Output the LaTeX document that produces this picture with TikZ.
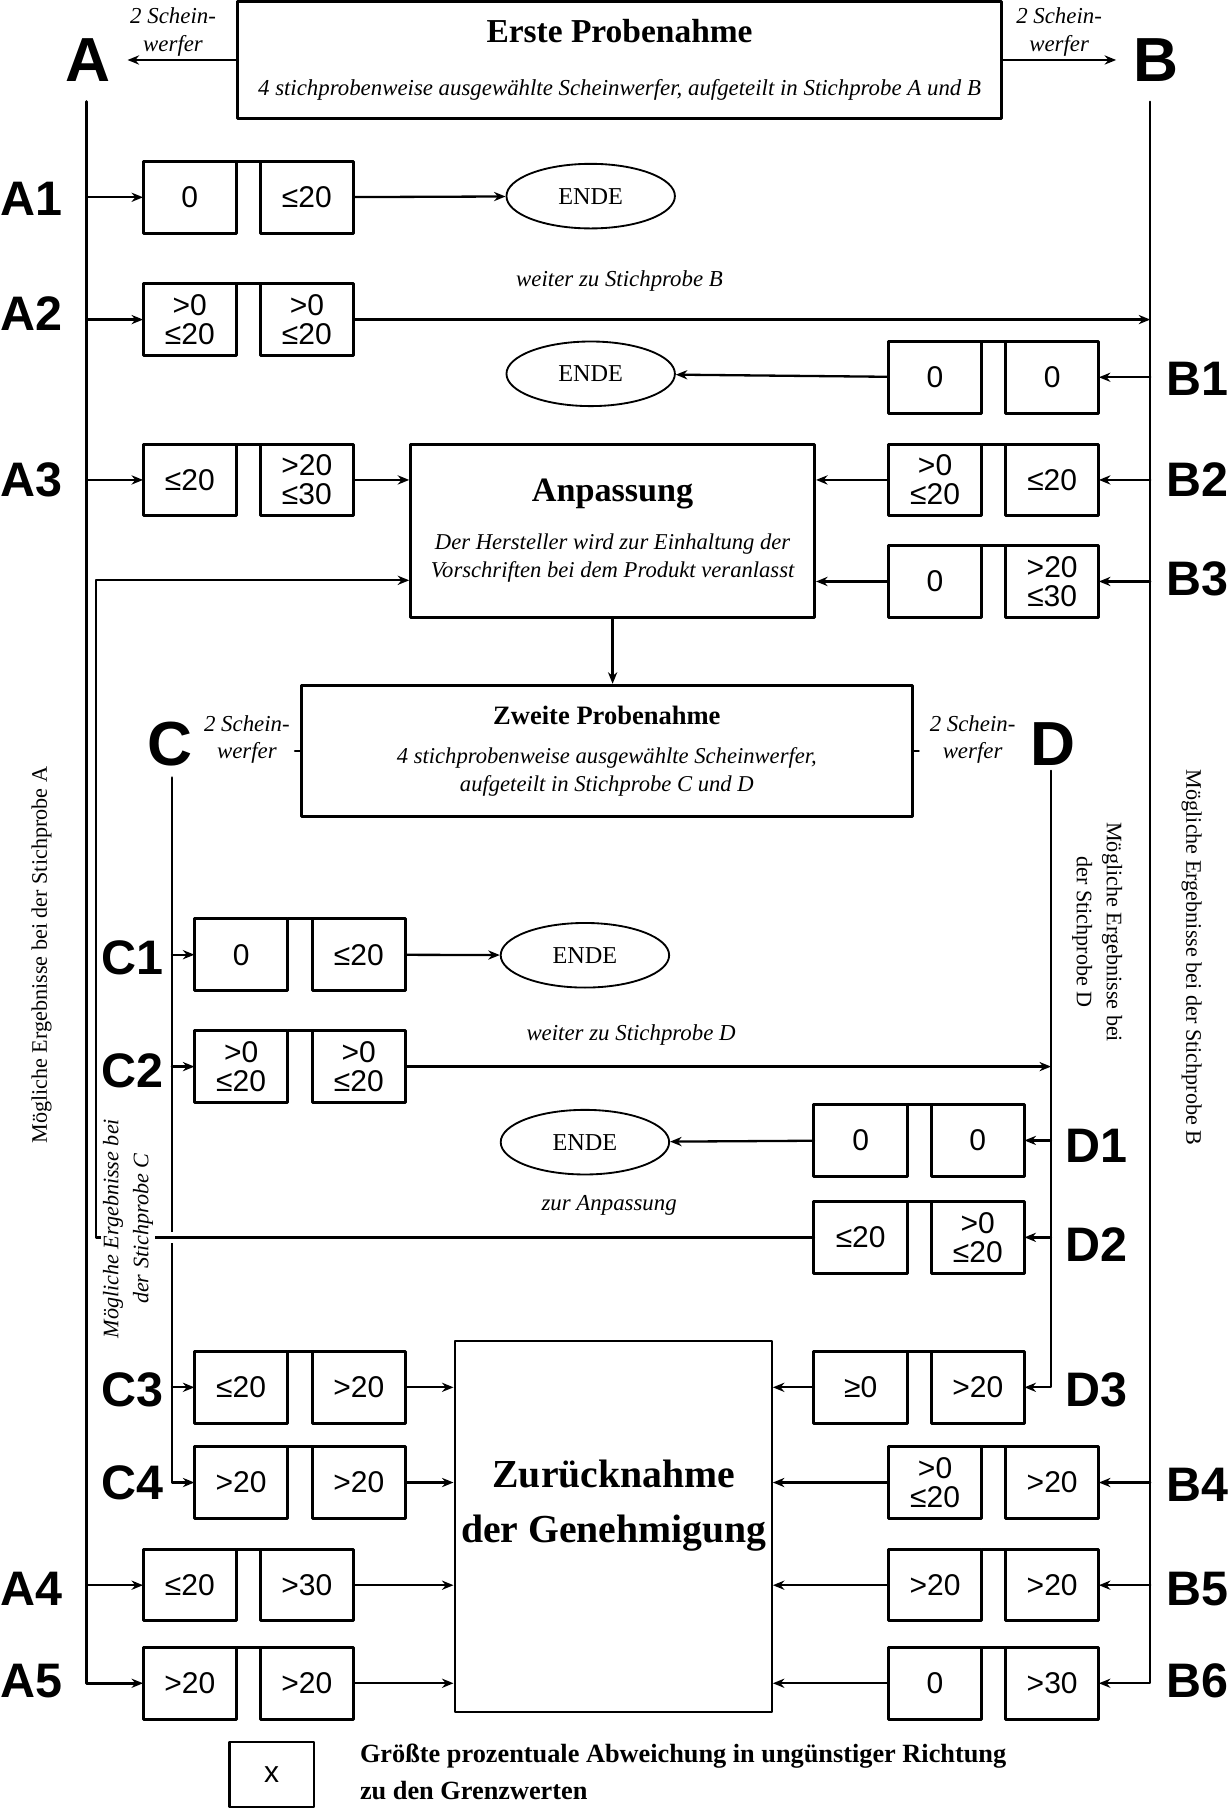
\documentclass[tikz,border=0pt]{standalone}
\usepackage{fontspec}
\setmainfont{Liberation Serif}
\newfontfamily\arialfont{Liberation Sans}
\usetikzlibrary{arrows.meta,shapes.geometric}

\begin{document}
\begin{tikzpicture}[x=0.5pt, y=-0.5pt, >={Stealth[length=5pt,width=4pt]}, line join=round, line cap=round,
    res/.style={draw, line width=1.3pt, minimum width=40.5pt, minimum height=31pt, inner sep=0pt, outer sep=0pt, align=center, font=\arialfont\fontsize{13}{12.5}\selectfont},
    lbl/.style={font=\arialfont\bfseries\fontsize{21}{21}\selectfont, inner sep=1pt},
    big/.style={font=\arialfont\bfseries\fontsize{27}{27}\selectfont},
    frame/.style={draw, line width=1.3pt, align=center, inner sep=0pt},
    ende/.style={draw, ellipse, line width=0.8pt, minimum width=73pt, minimum height=28pt, inner sep=0pt, font=\fontsize{10.5}{13}\selectfont},
    note/.style={font=\itshape\fontsize{9.9}{12}\selectfont, align=center, inner sep=0pt},
    side/.style={font=\fontsize{9.6}{13}\selectfont, align=center, inner sep=1pt},
    conn/.style={line width=1pt}]
    \useasboundingbox (0,0) rectangle (1067,1568);

    \node[frame, minimum width=331pt, minimum height=51pt] (erste) at (537,52)
      {{\fontsize{14.5}{18}\selectfont\bfseries Erste Probenahme}\\[11pt]
       {\itshape\fontsize{9.9}{12}\selectfont 4 stichprobenweise ausgewählte Scheinwerfer, aufgeteilt in Stichprobe A und B}};
    \node[big] (lA) at (76,52) {A};
    \node[big] (lB) at (1002,52) {B};
    \node[note] (sA) at (150,28) {2 Schein-\\werfer};
    \node[note] (sB) at (918,28) {2 Schein-\\werfer};
    \draw[conn,->,shorten >=4pt] (erste.west) -- (lA.east);
    \draw[conn,->,shorten >=4pt] (erste.east) -- (lB.west);

    \node[lbl] (nA1) at (27,172) {A1};
    \node[lbl] (nA2) at (27,272) {A2};
    \node[lbl] (nA3) at (27,416) {A3};
    \node[lbl] (nA4) at (27,1377) {A4};
    \node[lbl] (nA5) at (27,1457) {A5};
    \node[lbl] (nB1) at (1038,328) {B1};
    \node[lbl] (nB2) at (1038,416) {B2};
    \node[lbl] (nB3) at (1038,502) {B3};
    \node[lbl] (nB4) at (1038,1287) {B4};
    \node[lbl] (nB5) at (1038,1377) {B5};
    \node[lbl] (nB6) at (1038,1457) {B6};
    \node[lbl] (nC1) at (115,830) {C1};
    \node[lbl] (nC2) at (115,928) {C2};
    \node[lbl] (nC3) at (115,1205) {C3};
    \node[lbl] (nC4) at (115,1285) {C4};
    \node[lbl] (nD1) at (950,993) {D1};
    \node[lbl] (nD2) at (950,1079) {D2};
    \node[lbl] (nD3) at (950,1205) {D3};

    \node[res] (A1l) at (164.5,171) {0};
    \node[res] (A1r) at (266,171) {≤20};
    \node[res] (A2l) at (164.5,277) {>0\\≤20};
    \node[res] (A2r) at (266,277) {>0\\≤20};
    \node[res] (B1l) at (810.5,327) {0};
    \node[res] (B1r) at (912,327) {0};
    \node[res] (A3l) at (164.5,416) {≤20};
    \node[res] (A3r) at (266,416) {>20\\≤30};
    \node[res] (B2l) at (810.5,416) {>0\\≤20};
    \node[res] (B2r) at (912,416) {≤20};
    \node[res] (B3l) at (810.5,504) {0};
    \node[res] (B3r) at (912,504) {>20\\≤30};
    \node[res] (C1l) at (209,827.5) {0};
    \node[res] (C1r) at (311,827.5) {≤20};
    \node[res] (C2l) at (209,924.5) {>0\\≤20};
    \node[res] (C2r) at (311,924.5) {>0\\≤20};
    \node[res] (D1l) at (746,988.5) {0};
    \node[res] (D1r) at (847.5,988.5) {0};
    \node[res] (D2l) at (746,1072.5) {≤20};
    \node[res] (D2r) at (847.5,1072.5) {>0\\≤20};
    \node[res] (C3l) at (209,1202.5) {≤20};
    \node[res] (C3r) at (311,1202.5) {>20};
    \node[res] (D3l) at (746,1202.5) {≥0};
    \node[res] (D3r) at (847.5,1202.5) {>20};
    \node[res] (C4l) at (209,1285) {>20};
    \node[res] (C4r) at (311,1285) {>20};
    \node[res] (B4l) at (810.5,1285) {>0\\≤20};
    \node[res] (B4r) at (912,1285) {>20};
    \node[res] (A4l) at (164.5,1374) {≤20};
    \node[res] (A4r) at (266,1374) {>30};
    \node[res] (B5l) at (810.5,1374) {>20};
    \node[res] (B5r) at (912,1374) {>20};
    \node[res] (A5l) at (164.5,1459) {>20};
    \node[res] (A5r) at (266,1459) {>20};
    \node[res] (B6l) at (810.5,1459) {0};
    \node[res] (B6r) at (912,1459) {>30};
    \draw[line width=1.3pt] (A1l.north east) -- (A1r.north west) (A2l.north east) -- (A2r.north west)
      (B1l.north east) -- (B1r.north west) (A3l.north east) -- (A3r.north west)
      (B2l.north east) -- (B2r.north west) (B3l.north east) -- (B3r.north west)
      (C1l.north east) -- (C1r.north west) (C2l.north east) -- (C2r.north west)
      (D1l.north east) -- (D1r.north west) (D2l.north east) -- (D2r.north west)
      (C3l.north east) -- (C3r.north west) (D3l.north east) -- (D3r.north west)
      (C4l.north east) -- (C4r.north west) (B4l.north east) -- (B4r.north west)
      (A4l.north east) -- (A4r.north west) (B5l.north east) -- (B5r.north west)
      (A5l.north east) -- (A5r.north west) (B6l.north east) -- (B6r.north west);

    \node[ende] (endeA) at (512,170) {ENDE};
    \node[ende] (endeB) at (512,324) {ENDE};
    \node[ende] (endeC) at (507,828) {ENDE};
    \node[ende] (endeD) at (507,990) {ENDE};

    \node[frame, minimum width=175pt, minimum height=75pt] (anp) at (531,460)
      {{\fontsize{14.8}{18}\selectfont\bfseries Anpassung}\\[9pt]
       {\itshape\fontsize{9.8}{15}\selectfont Der Hersteller wird zur Einhaltung der}\\
       {\itshape\fontsize{9.8}{15}\selectfont Vorschriften bei dem Produkt veranlasst}};
    \node[frame, minimum width=265pt, minimum height=57pt] (zweite) at (526,651)
      {{\fontsize{11.5}{14}\selectfont\bfseries Zweite Probenahme}\\[5pt]
       {\itshape\fontsize{9.8}{15}\selectfont 4 stichprobenweise ausgewählte Scheinwerfer,}\\
       {\itshape\fontsize{9.8}{15}\selectfont aufgeteilt in Stichprobe C und D}};
    \node[frame, line width=0.9pt, minimum width=137.5pt, minimum height=161pt] (zur) at (531.5,1323) {};
    \node[font=\bfseries\fontsize{17.2}{23.5}\selectfont, align=center] (zurText) at (532,1305) {Zurücknahme\\der Genehmigung};
    \node[big] (lC) at (147,645) {C};
    \node[big] (lD) at (913,645) {D};
    \node[note] (sC) at (214,641) {2 Schein-\\werfer};
    \node[note] (sD) at (843,641) {2 Schein-\\werfer};
    \draw[conn] (zweite.west) -- ++(-4,0);
    \draw[conn] (zweite.east) -- ++(4,0);

    \coordinate (aTop) at (75,88);
    \coordinate (bTop) at (997,88);
    \coordinate (cTop) at (149,674);
    \coordinate (dTop) at (911,668);
    \coordinate (ret) at (83,503);
    \draw[line width=1.2pt,->] (aTop) |- (A5l);
    \draw[line width=0.8pt,->] (bTop) |- (B6r);
    \draw[line width=1.2pt,->] (cTop) |- (C4l);
    \draw[line width=0.8pt,->] (dTop) |- (D3r);
    \draw[conn,->] (A1l -| aTop) -- (A1l);
    \draw[conn,->] (A2l -| aTop) -- (A2l);
    \draw[conn,->] (A3l -| aTop) -- (A3l);
    \draw[conn,->] (A4l -| aTop) -- (A4l);
    \draw[conn,->] (B1r -| bTop) -- (B1r);
    \draw[conn,->] (B2r -| bTop) -- (B2r);
    \draw[conn,->] (B3r -| bTop) -- (B3r);
    \draw[conn,->] (B4r -| bTop) -- (B4r);
    \draw[conn,->] (B5r -| bTop) -- (B5r);
    \draw[conn,->] (C1l -| cTop) -- (C1l);
    \draw[conn,->] (C2l -| cTop) -- (C2l);
    \draw[conn,->] (C3l -| cTop) -- (C3l);
    \draw[conn,->] (D1r -| dTop) -- (D1r);
    \draw[conn,->] (D2r -| dTop) -- (D2r);

    \draw[conn,->] (A1r) -- (endeA);
    \draw[line width=1.3pt,->] (A2r) -- (A2r -| bTop);
    \node[note] (wB) at (537,244) {weiter zu Stichprobe B};
    \draw[conn,->] (B1l) -- (endeB);
    \draw[conn,->] (A3r) -- (A3r -| anp.west);
    \draw[conn,->] (B2l) -- (B2l -| anp.east);
    \draw[conn,->] (B3l) -- (B3l -| anp.east);
    \draw[conn,->] (anp.south) -- (anp.south |- zweite.north);
    \draw[conn,->] (C1r) -- (endeC);
    \draw[line width=1.3pt,->] (C2r) -- (C2r -| dTop);
    \node[note] (wD) at (547,897) {weiter zu Stichprobe D};
    \draw[conn,->] (D1l) -- (endeD);
    \node[note] (zA) at (528,1045) {zur Anpassung};
    \draw[conn,->, preaction={draw=white, line width=5pt, line cap=butt, shorten <=3pt, shorten >=3pt, -}] (D2l.west) -| (ret) -- (ret -| anp.west);
    \draw[conn,->] (C3r) -- (C3r -| zur.west);
    \draw[conn,->] (C4r) -- (C4r -| zur.west);
    \draw[conn,->] (A4r) -- (A4r -| zur.west);
    \draw[conn,->] (A5r) -- (A5r -| zur.west);
    \draw[conn,->] (D3l) -- (D3l -| zur.east);
    \draw[conn,->] (B4l) -- (B4l -| zur.east);
    \draw[conn,->] (B5l) -- (B5l -| zur.east);
    \draw[conn,->] (B6l) -- (B6l -| zur.east);

    \node[side, rotate=90] (mA) at (36,828) {Mögliche Ergebnisse bei der Stichprobe A};
    \node[side, rotate=-90] (mB) at (1033,830) {Mögliche Ergebnisse bei der Stichprobe B};
    \node[side, rotate=90, fill=white, font=\itshape\fontsize{9.6}{13}\selectfont] (mC) at (111,1065) {Mögliche Ergebnisse bei\\der Stichprobe C};
    \node[side, rotate=-90] (mD) at (951,808) {Mögliche Ergebnisse bei\\der Stichprobe D};

    \node[res, line width=1pt, minimum width=36.5pt, minimum height=28pt] (leg) at (235.5,1538) {x};
    \node[anchor=west, align=left, font=\bfseries\fontsize{11.4}{16}\selectfont] (legText) at (305,1536) {Größte prozentuale Abweichung in ungünstiger Richtung\\zu den Grenzwerten};
  \end{tikzpicture}
\end{document}
